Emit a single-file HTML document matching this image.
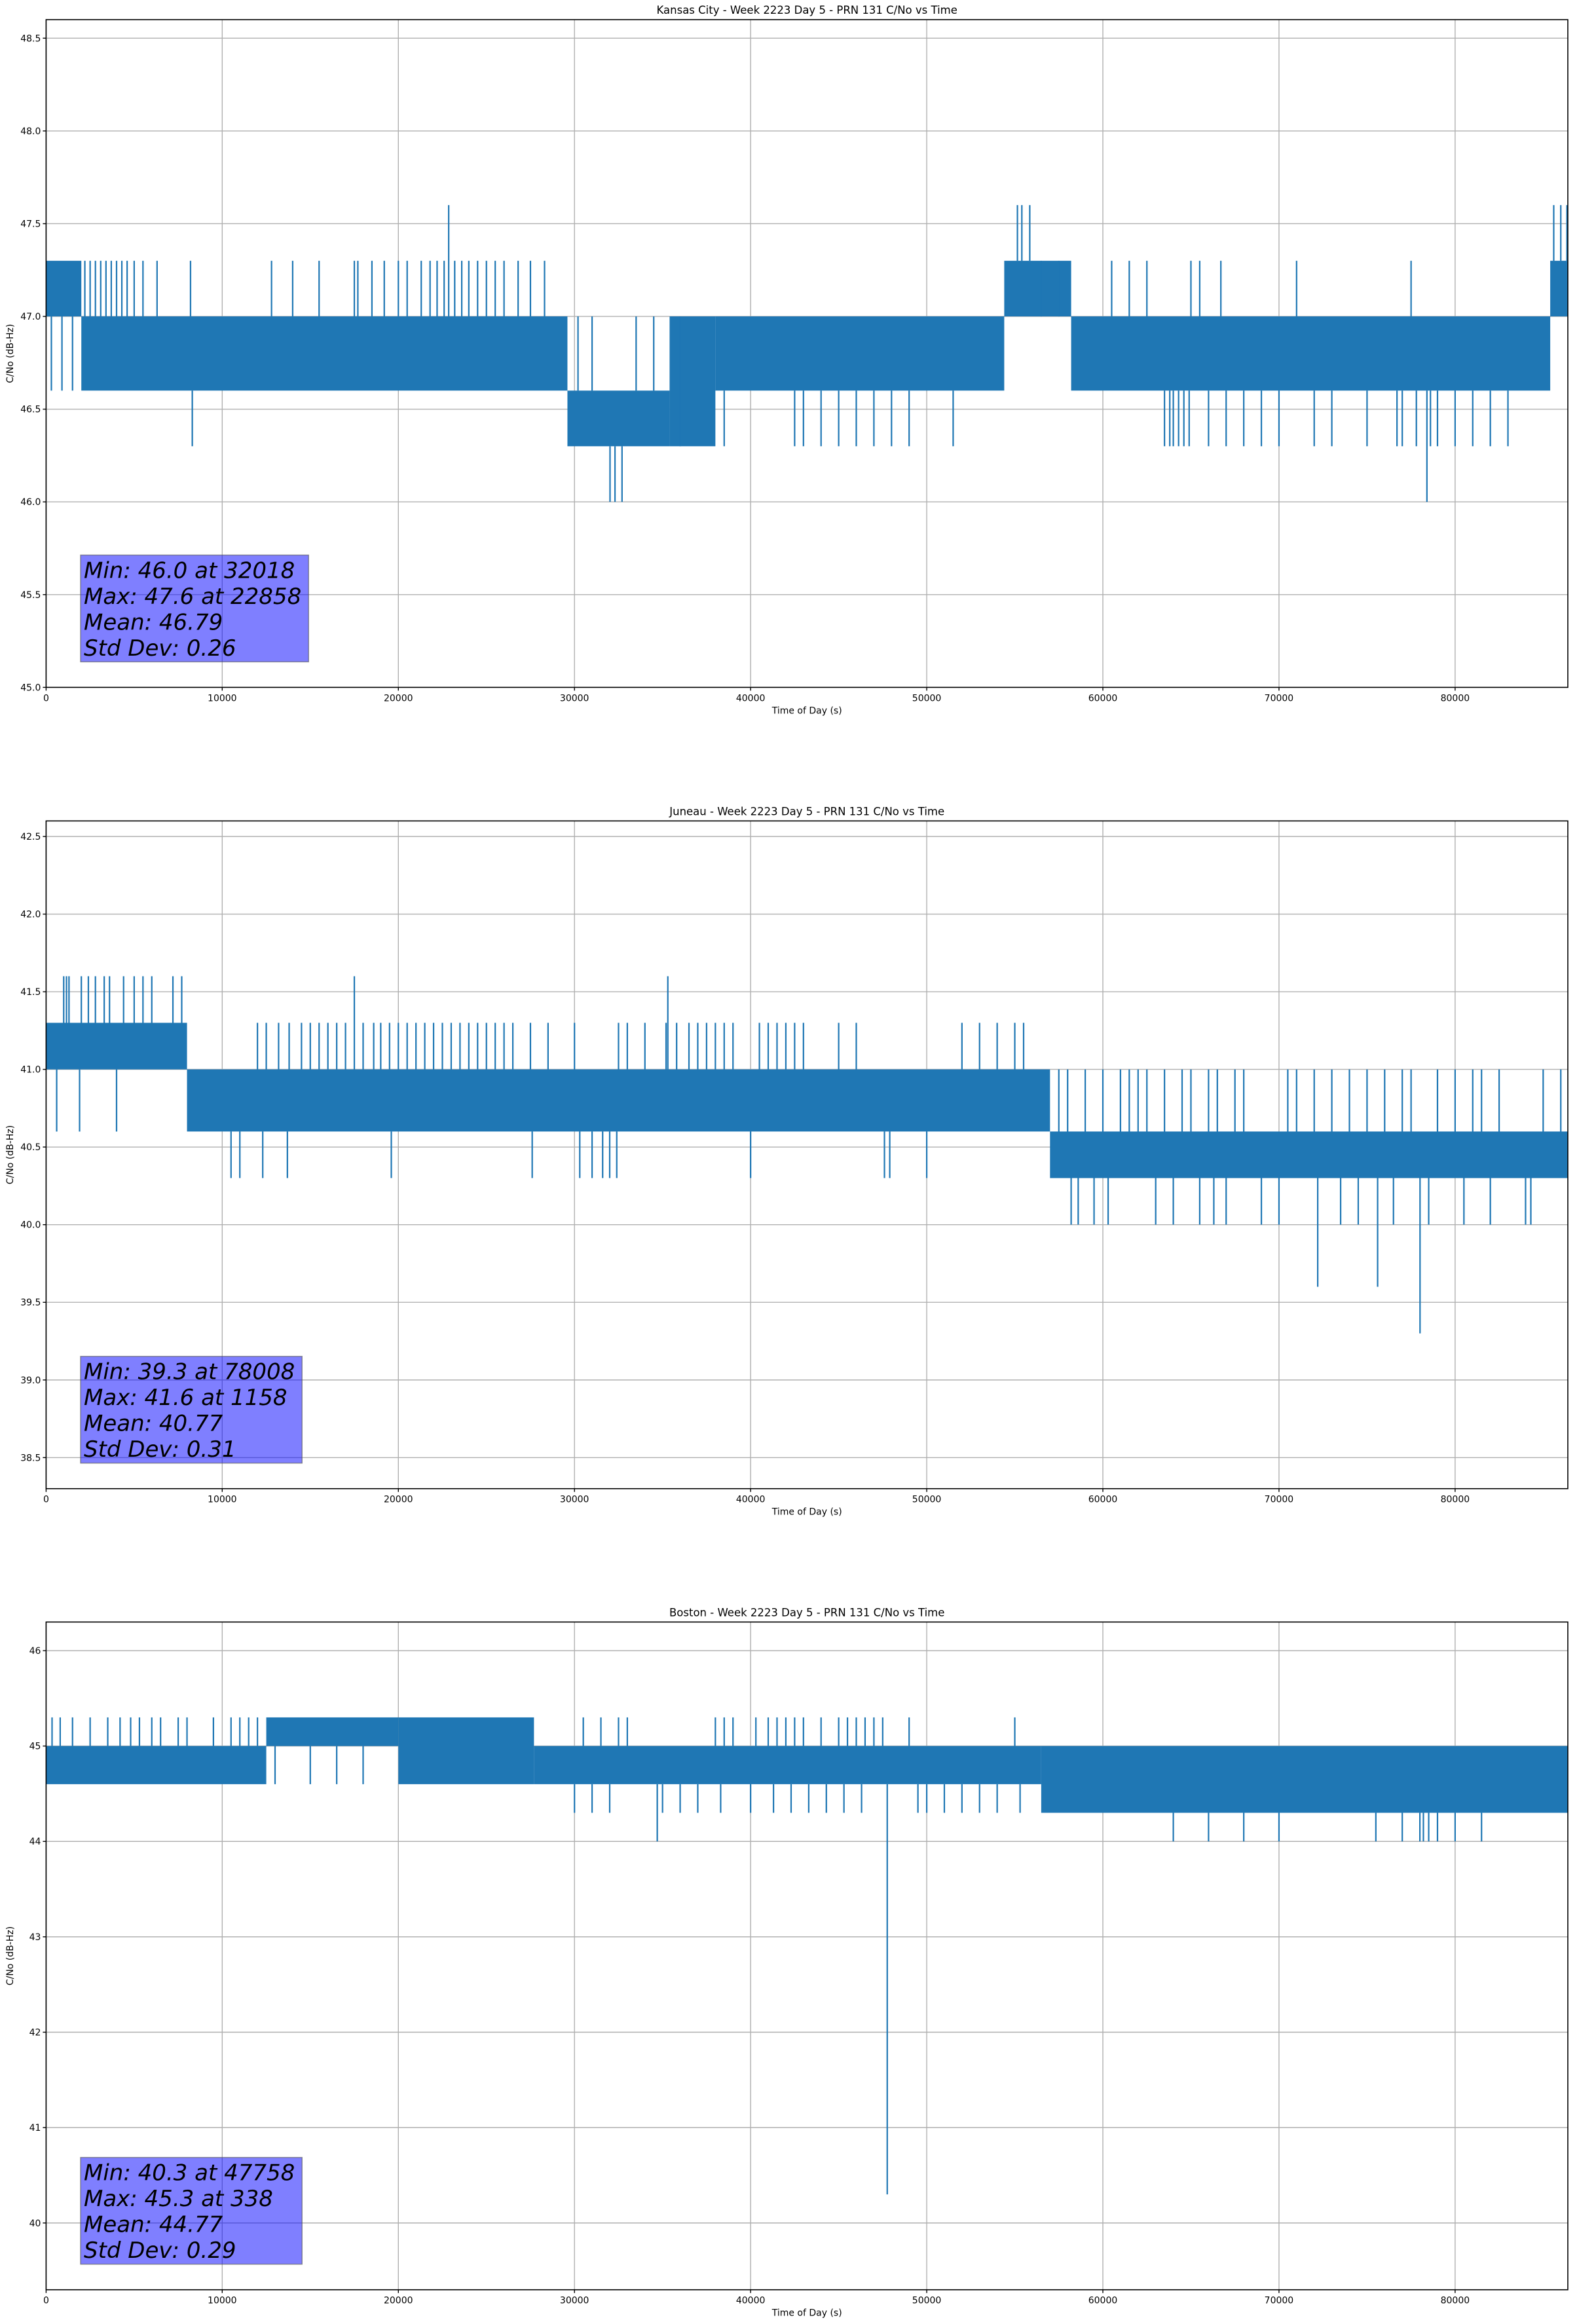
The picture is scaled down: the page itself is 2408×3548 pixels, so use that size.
<!DOCTYPE html>
<html><head><meta charset="utf-8">
<style>
html,body{margin:0;padding:0;background:#fff;}
svg{display:block;}
text{font-family:"DejaVu Sans","Liberation Sans",sans-serif;fill:#000;}
</style></head>
<body>
<svg id="fig" width="2408" height="3548" viewBox="0 0 2408 3548" xmlns="http://www.w3.org/2000/svg"></svg>
<script>
// ---------- Data ----------
const xTicks = [0,10000,20000,30000,40000,50000,60000,70000,80000];

const kcTitle = "Kansas City - Week 2223 Day 5 - PRN 131 C/No vs Time";
const kcYLim = [45.0, 48.6];
const kcYTicks = [45.0,45.5,46.0,46.5,47.0,47.5,48.0,48.5];
const kcStats = ["Min: 46.0 at 32018","Max: 47.6 at 22858","Mean: 46.79","Std Dev: 0.26"];
const kcBands = [[0,2000,47.0,47.3],[2000,29600,46.6,47.0],[29600,35400,46.3,46.6],[35400,38000,46.3,47.0],[38000,54400,46.6,47.0],[54400,58200,47.0,47.3],[58200,85400,46.6,47.0],[85400,86400,47.0,47.3]];
const kcSpikes = [[300,46.6],[900,46.6],[1500,46.6],[2200,47.3],[2500,47.3],[2800,47.3],[3100,47.3],[3400,47.3],[3700,47.3],[4000,47.3],[4300,47.3],[4600,47.3],[5000,47.3],[5500,47.3],[6300,47.3],[8200,47.3],[8300,46.3],[12800,47.3],[14000,47.3],[15500,47.3],[17500,47.3],[17700,47.3],[18500,47.3],[19200,47.3],[20000,47.3],[20500,47.3],[21300,47.3],[21800,47.3],[22200,47.3],[22600,47.3],[22858,47.6],[23200,47.3],[23600,47.3],[24000,47.3],[24500,47.3],[25000,47.3],[25500,47.3],[26000,47.3],[26800,47.3],[27500,47.3],[28300,47.3],[30200,47.0],[31000,47.0],[32018,46.0],[32300,46.0],[32700,46.0],[33500,47.0],[34500,47.0],[36000,47.0],[38500,46.3],[42500,46.3],[43000,46.3],[44000,46.3],[45000,46.3],[46000,46.3],[47000,46.3],[48000,46.3],[49000,46.3],[51500,46.3],[55150,47.6],[55400,47.6],[55850,47.6],[56500,47.3],[57500,47.3],[60500,47.3],[61500,47.3],[62500,47.3],[63500,46.3],[63800,46.3],[64000,46.3],[64300,46.3],[64600,46.3],[64900,46.3],[65000,47.3],[65500,47.3],[66000,46.3],[66700,47.3],[67000,46.3],[68000,46.3],[69000,46.3],[70000,46.3],[71000,47.3],[72000,46.3],[73000,46.3],[75000,46.3],[76700,46.3],[77000,46.3],[77500,47.3],[77800,46.3],[78400,46.0],[78600,46.3],[79000,46.3],[80000,46.3],[81000,46.3],[82000,46.3],[83000,46.3],[85600,47.6],[86000,47.6],[86350,47.6]];

const juTitle = "Juneau - Week 2223 Day 5 - PRN 131 C/No vs Time";
const juYLim = [38.3, 42.6];
const juYTicks = [38.5,39.0,39.5,40.0,40.5,41.0,41.5,42.0,42.5];
const juStats = ["Min: 39.3 at 78008","Max: 41.6 at 1158","Mean: 40.77","Std Dev: 0.31"];
const juBands = [[0,8000,41.0,41.3],[8000,57000,40.6,41.0],[57000,86400,40.3,40.6]];
const juSpikes = [[600,40.6],[1000,41.6],[1158,41.6],[1300,41.6],[1900,40.6],[2000,41.6],[2400,41.6],[2800,41.6],[3300,41.6],[3600,41.6],[4000,40.6],[4400,41.6],[5000,41.6],[5500,41.6],[6000,41.6],[7200,41.6],[7700,41.6],[10500,40.3],[11000,40.3],[12000,41.3],[12300,40.3],[12500,41.3],[13200,41.3],[13700,40.3],[13800,41.3],[14500,41.3],[15000,41.3],[15500,41.3],[16000,41.3],[16500,41.3],[17000,41.3],[17500,41.6],[18000,41.3],[18600,41.3],[19000,41.3],[19500,41.3],[19600,40.3],[20000,41.3],[20500,41.3],[21000,41.3],[21500,41.3],[22000,41.3],[22500,41.3],[23000,41.3],[23500,41.3],[24000,41.3],[24500,41.3],[25000,41.3],[25500,41.3],[26000,41.3],[26500,41.3],[27500,41.3],[27600,40.3],[28500,41.3],[30000,41.3],[30300,40.3],[31000,40.3],[31600,40.3],[32000,40.3],[32400,40.3],[32500,41.3],[33000,41.3],[34000,41.3],[35200,41.3],[35300,41.6],[35800,41.3],[36500,41.3],[37000,41.3],[37500,41.3],[38000,41.3],[38500,41.3],[39000,41.3],[40000,40.3],[40500,41.3],[41000,41.3],[41500,41.3],[42000,41.3],[42500,41.3],[43000,41.3],[45000,41.3],[46000,41.3],[47600,40.3],[47900,40.3],[50000,40.3],[52000,41.3],[53000,41.3],[54000,41.3],[55000,41.3],[55500,41.3],[57500,41.0],[58000,41.0],[58200,40.0],[58600,40.0],[59000,41.0],[59500,40.0],[60000,41.0],[60300,40.0],[61000,41.0],[61500,41.0],[62000,41.0],[62500,41.0],[63000,40.0],[63500,41.0],[64000,40.0],[64500,41.0],[65000,41.0],[65500,40.0],[66000,41.0],[66300,40.0],[66500,41.0],[67000,40.0],[67500,41.0],[68000,41.0],[69000,40.0],[70000,40.0],[70500,41.0],[71000,41.0],[72000,41.0],[72200,39.6],[73000,41.0],[73500,40.0],[74000,41.0],[74500,40.0],[75000,41.0],[75600,39.6],[76000,41.0],[76500,40.0],[77000,41.0],[77500,41.0],[78008,39.3],[78500,40.0],[79000,41.0],[80000,41.0],[80500,40.0],[81000,41.0],[81500,41.0],[82000,40.0],[82500,41.0],[84000,40.0],[84300,40.0],[85000,41.0],[86000,41.0]];

const boTitle = "Boston - Week 2223 Day 5 - PRN 131 C/No vs Time";
const boYLim = [39.3, 46.3];
const boYTicks = [40,41,42,43,44,45,46];
const boStats = ["Min: 40.3 at 47758","Max: 45.3 at 338","Mean: 44.77","Std Dev: 0.29"];
const boBands = [[0,12500,44.6,45.0],[12500,20000,45.0,45.3],[20000,27700,44.6,45.3],[27700,56500,44.6,45.0],[56500,86400,44.3,45.0]];
const boSpikes = [[338,45.3],[800,45.3],[1500,45.3],[2500,45.3],[3500,45.3],[4200,45.3],[4800,45.3],[5300,45.3],[6000,45.3],[6500,45.3],[7500,45.3],[8000,45.3],[9500,45.3],[10500,45.3],[11000,45.3],[11500,45.3],[12000,45.3],[13000,44.6],[15000,44.6],[16500,44.6],[18000,44.6],[30000,44.3],[30500,45.3],[31000,44.3],[31500,45.3],[32000,44.3],[32500,45.3],[33000,45.3],[34700,44.0],[35000,44.3],[36000,44.3],[37000,44.3],[38000,45.3],[38300,44.3],[38500,45.3],[39000,45.3],[40000,44.3],[40300,45.3],[41000,45.3],[41300,44.3],[41500,45.3],[42000,45.3],[42300,44.3],[42500,45.3],[43000,45.3],[43300,44.3],[44000,45.3],[44300,44.3],[45000,45.3],[45300,44.3],[45500,45.3],[46000,45.3],[46300,44.3],[46500,45.3],[47000,45.3],[47500,45.3],[47758,40.3],[49000,45.3],[49500,44.3],[50000,44.3],[51000,44.3],[52000,44.3],[53000,44.3],[54000,44.3],[55000,45.3],[55300,44.3],[64000,44.0],[66000,44.0],[68000,44.0],[70000,44.0],[75500,44.0],[77000,44.0],[78000,44.0],[78200,44.0],[78500,44.0],[79000,44.0],[80000,44.0],[81500,44.0]];

// ---------- Rendering ----------
const NS = "http://www.w3.org/2000/svg";
const svg = document.getElementById('fig');
const X0 = 70.4, X1 = 2394, XMAX = 86400;
const LINE = "#1f77b4";
function mk(tag, attrs, parent) {
  const e = document.createElementNS(NS, tag);
  for (const k in attrs) e.setAttribute(k, attrs[k]);
  (parent || svg).appendChild(e);
  return e;
}
function drawPanel(key, top, title, yLim, yTicks, stats, bands, spikes, yDec) {
  const bottom = top + 1019.4;
  const g = mk('g', {});
  
  
  const xs = v => X0 + (v / XMAX) * (X1 - X0);
  const ys = v => bottom - (v - yLim[0]) / (yLim[1] - yLim[0]) * (bottom - top);
  xTicks.forEach(t => {
    const l = mk('line', {x1: xs(t), x2: xs(t), y1: top, y2: bottom, stroke: '#b0b0b0', 'stroke-width': 1.4}, g);
    
    
  });
  yTicks.forEach(t => {
    const l = mk('line', {x1: X0, x2: X1, y1: ys(t), y2: ys(t), stroke: '#b0b0b0', 'stroke-width': 1.4}, g);
    
    
  });
  const sg = mk('g', {}, g);
  
  
  bands.forEach(b => {
    const r = mk('rect', {x: xs(b[0]), y: ys(b[3]), width: Math.max(1, xs(b[1]) - xs(b[0])), height: ys(b[2]) - ys(b[3]), fill: LINE}, sg);
    
    
  });
  spikes.forEach(s => {
    let band = bands.find(b => s[0] >= b[0] && s[0] <= b[1]) || bands[0];
    const from = s[1] > band[3] ? band[3] : band[2];
    const l = mk('line', {x1: xs(s[0]), x2: xs(s[0]), y1: ys(from), y2: ys(s[1]), stroke: LINE, 'stroke-width': 2.2}, sg);
    
    
  });
  const fr = mk('rect', {x: X0, y: top, width: X1 - X0, height: bottom - top, fill: 'none', stroke: '#000', 'stroke-width': 1.6}, g);
  
  
  xTicks.forEach(t => {
    mk('line', {x1: xs(t), x2: xs(t), y1: bottom, y2: bottom + 5, stroke: '#000', 'stroke-width': 1.4}, g);
    const tx = mk('text', {x: xs(t), y: bottom + 21, 'text-anchor': 'middle', 'font-size': 14}, g);
    tx.textContent = t;
    
    
  });
  yTicks.forEach(t => {
    mk('line', {x1: X0 - 5, x2: X0, y1: ys(t), y2: ys(t), stroke: '#000', 'stroke-width': 1.4}, g);
    const tx = mk('text', {x: X0 - 8, y: ys(t) + 5, 'text-anchor': 'end', 'font-size': 14}, g);
    tx.textContent = t.toFixed(yDec);
    
    
  });
  const ti = mk('text', {x: (X0 + X1) / 2, y: top - 9, 'text-anchor': 'middle', 'font-size': 16.5}, g);
  ti.textContent = title;
  
  
  const xl = mk('text', {x: (X0 + X1) / 2, y: bottom + 40, 'text-anchor': 'middle', 'font-size': 14}, g);
  xl.textContent = 'Time of Day (s)';
  
  
  const cy = (top + bottom) / 2;
  const yl = mk('text', {x: 20, y: cy, 'text-anchor': 'middle', 'font-size': 14, transform: 'rotate(-90 20 ' + cy + ')'}, g);
  yl.textContent = 'C/No (dB-Hz)';
  
  
  const bx = mk('g', {}, g);
  
  
  const bTop = bottom - 202, bH = 163;
  const rect = mk('rect', {x: 123, y: bTop, width: 100, height: bH, fill: '#0000ff', 'fill-opacity': 0.5, stroke: '#555', 'stroke-opacity': 0.6, 'stroke-width': 1.5}, bx);
  let maxW = 0;
  stats.forEach((s, i) => {
    const t = mk('text', {x: 128, y: bTop + 35 + i * 39.5, 'font-size': 34, 'font-style': 'italic'}, bx);
    t.textContent = s;
    
    
    maxW = Math.max(maxW, t.getComputedTextLength());
  });
  rect.setAttribute('width', maxW + 16);
}
drawPanel('kansas-city', 30, kcTitle, kcYLim, kcYTicks, kcStats, kcBands, kcSpikes, 1);
drawPanel('juneau', 1253.3, juTitle, juYLim, juYTicks, juStats, juBands, juSpikes, 1);
drawPanel('boston', 2476.3, boTitle, boYLim, boYTicks, boStats, boBands, boSpikes, 0);
</script>
</body></html>
